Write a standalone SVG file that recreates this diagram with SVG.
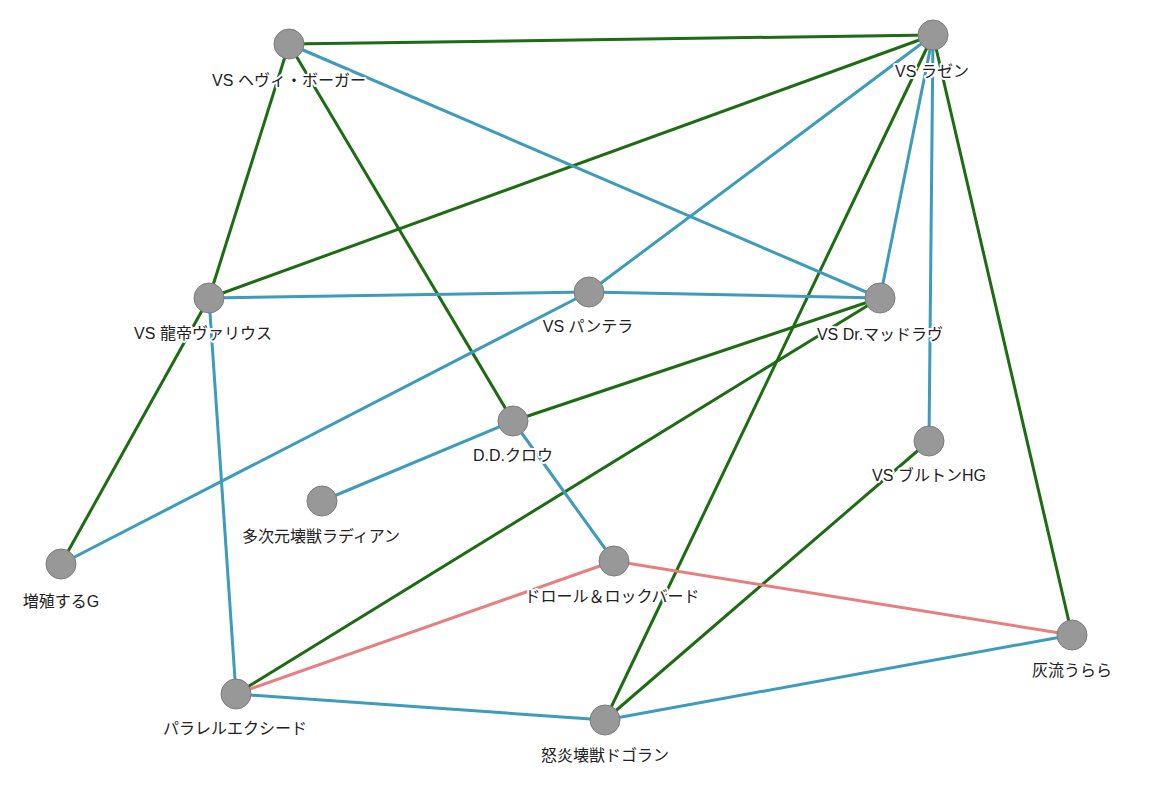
<svg xmlns="http://www.w3.org/2000/svg" width="1169" height="786" viewBox="0 0 1169 786">
<style>
.g{stroke:#1d6b12;stroke-width:3;fill:none}
.b{stroke:#3d9bbb;stroke-width:3;fill:none}
.r{stroke:#e77f7f;stroke-width:3;fill:none}
circle{fill:#989898;stroke:#7c7c7c;stroke-width:1}
text{font-family:"Liberation Sans","Noto Sans CJK JP",sans-serif;font-size:16px;fill:#222;text-anchor:middle;paint-order:stroke;stroke:#fff;stroke-width:4;stroke-linejoin:round}
</style>
<rect width="1169" height="786" fill="#fff"/>
<g id="edges">
<line class="g" x1="289" y1="44" x2="933" y2="35"/>
<line class="g" x1="289" y1="44" x2="209" y2="298"/>
<line class="g" x1="289" y1="44" x2="513" y2="421"/>
<line class="g" x1="933" y1="35" x2="209" y2="298"/>
<line class="g" x1="933" y1="35" x2="605" y2="720"/>
<line class="g" x1="933" y1="35" x2="1072" y2="635"/>
<line class="g" x1="209" y1="298" x2="61" y2="564"/>
<line class="g" x1="880" y1="298" x2="513" y2="421"/>
<line class="g" x1="880" y1="298" x2="236" y2="694"/>
<line class="g" x1="929" y1="441" x2="605" y2="720"/>
<line class="b" x1="289" y1="44" x2="880" y2="298"/>
<line class="b" x1="933" y1="35" x2="589" y2="292"/>
<line class="b" x1="933" y1="35" x2="880" y2="298"/>
<line class="b" x1="933" y1="35" x2="929" y2="441"/>
<line class="b" x1="209" y1="298" x2="589" y2="292"/>
<line class="b" x1="589" y1="292" x2="880" y2="298"/>
<line class="b" x1="589" y1="292" x2="61" y2="564"/>
<line class="b" x1="209" y1="298" x2="236" y2="694"/>
<line class="b" x1="513" y1="421" x2="322" y2="501"/>
<line class="b" x1="513" y1="421" x2="614" y2="561"/>
<line class="b" x1="236" y1="694" x2="605" y2="720"/>
<line class="b" x1="605" y1="720" x2="1072" y2="635"/>
<line class="r" x1="614" y1="561" x2="1072" y2="635"/>
<line class="r" x1="614" y1="561" x2="236" y2="694"/>
</g>
<g id="n1"><circle cx="289" cy="44" r="15"/><text x="289" y="86">VS ヘヴィ・ボーガー</text></g>
<g id="n2"><circle cx="933" cy="35" r="15"/><text x="932" y="77">VS ラゼン</text></g>
<g id="n3"><circle cx="209" cy="298" r="15"/><text x="203" y="339">VS 龍帝ヴァリウス</text></g>
<g id="n4"><circle cx="589" cy="292" r="15"/><text x="588" y="332">VS パンテラ</text></g>
<g id="n5"><circle cx="880" cy="298" r="15"/><text x="880" y="340">VS Dr.マッドラヴ</text></g>
<g id="n6"><circle cx="513" cy="421" r="15"/><text x="513" y="461">D.D.クロウ</text></g>
<g id="n7"><circle cx="929" cy="441" r="15"/><text x="929" y="481">VS ブルトンHG</text></g>
<g id="n8"><circle cx="322" cy="501" r="15"/><text x="321" y="542">多次元壊獣ラディアン</text></g>
<g id="n9"><circle cx="61" cy="564" r="15"/><text x="61" y="607">増殖するG</text></g>
<g id="n10"><circle cx="614" cy="561" r="15"/><text x="612" y="602">ドロール＆ロックバード</text></g>
<g id="n11"><circle cx="1072" cy="635" r="15"/><text x="1072" y="676">灰流うらら</text></g>
<g id="n12"><circle cx="236" cy="694" r="15"/><text x="235" y="734">パラレルエクシード</text></g>
<g id="n13"><circle cx="605" cy="720" r="15"/><text x="605" y="761">怒炎壊獣ドゴラン</text></g>
</svg>
